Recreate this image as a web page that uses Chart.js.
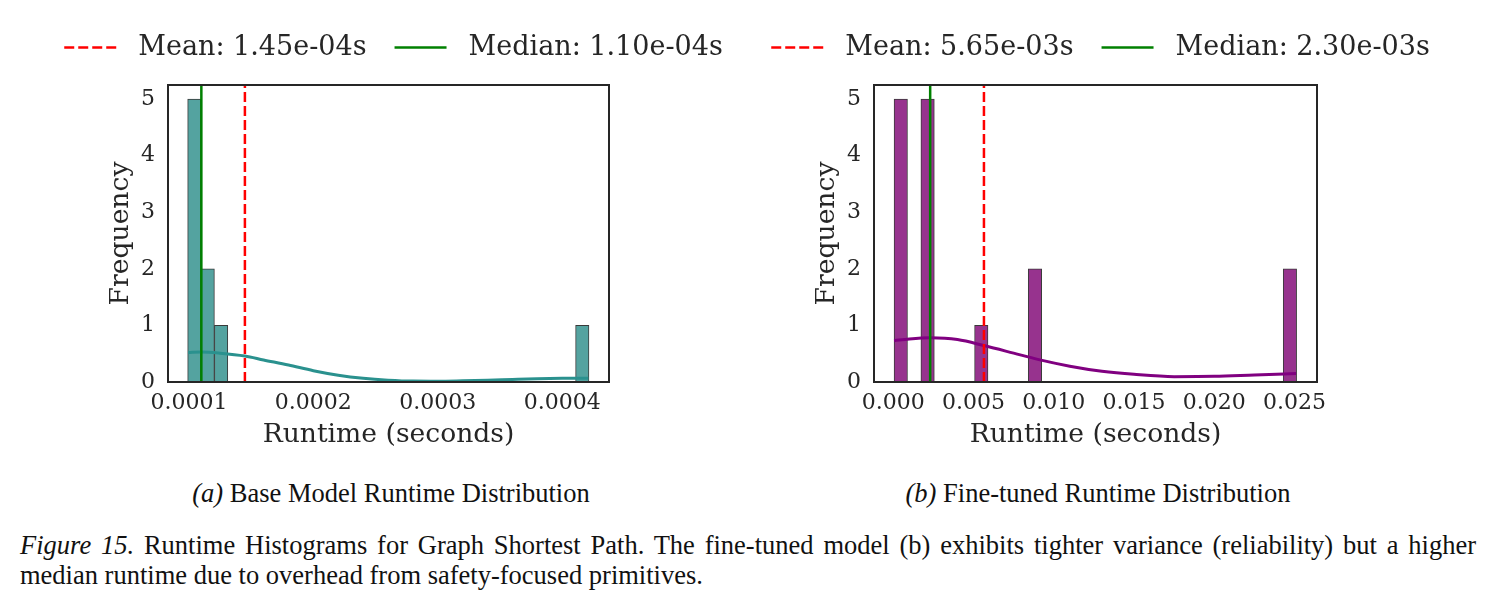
<!DOCTYPE html>
<html>
<head>
<meta charset="utf-8">
<script src="https://cdn.jsdelivr.net/npm/chart.js@4"></script>
<style>
  body { margin: 0; background: #fff; width: 1491px; height: 604px; position: relative; overflow: hidden; }
  .panel { position: absolute; top: 0; }
  .sub { position: absolute; top: 478px; font: 26.5px/30px "Liberation Serif", serif; color: #111; transform: translateX(-50%); white-space: nowrap; }
  .caption { position: absolute; left: 20px; width: 1456px; font: 26.5px/30px "Liberation Serif", serif; color: #111; white-space: nowrap; }
  .line1 { top: 530px; text-align: justify; text-align-last: justify; }
  .line2 { top: 560px; }
</style>
</head>
<body>
<div class="panel" style="left:0px"><canvas id="chartA" width="787" height="462"></canvas></div>
<div class="panel" style="left:706px"><canvas id="chartB" width="789" height="462"></canvas></div>
<div class="sub" style="left:391px"><i>(a)</i> Base Model Runtime Distribution</div>
<div class="sub" style="left:1098px"><i>(b)</i> Fine-tuned Runtime Distribution</div>
<div class="caption line1"><i>Figure 15.</i> Runtime Histograms for Graph Shortest Path. The fine-tuned model (b) exhibits tighter variance (reliability) but a higher</div>
<div class="caption line2">median runtime due to overhead from safety-focused primitives.</div>
<script>
// (a) base model: 30 bins
const binStartA = 0.0000990;
const binWidthA = 0.00001075;
const countsA = [5, 2, 1, 0, 0, 0, 0, 0, 0, 0, 0, 0, 0, 0, 0, 0, 0, 0, 0, 0, 0, 0, 0, 0, 0, 0, 0, 0, 0, 1];
const kdeXA = [0.0000994, 0.00011, 0.000125, 0.000145, 0.00016, 0.00018, 0.0002, 0.00022, 0.00024, 0.00026, 0.00028, 0.0003, 0.00032, 0.00034, 0.00036, 0.00038, 0.0004, 0.000421];
const kdeYA = [0.52, 0.53, 0.51, 0.46, 0.39, 0.30, 0.20, 0.12, 0.065, 0.032, 0.016, 0.015, 0.022, 0.032, 0.045, 0.057, 0.065, 0.068];
const meanA = 0.000145;
const medianA = 0.000110;
const legendA = ["Mean: 1.45e-04s", "Median: 1.10e-04s"];
const xTicksA = [0.0001, 0.0002, 0.0003, 0.0004];
const xRangeA = [0.0000832, 0.0004376];

// (b) fine-tuned: 30 bins
const binStartB = 0.00005;
const binWidthB = 0.000836;
const countsB = [5, 0, 5, 0, 0, 0, 1, 0, 0, 0, 2, 0, 0, 0, 0, 0, 0, 0, 0, 0, 0, 0, 0, 0, 0, 0, 0, 0, 0, 2];
const kdeXB = [0.00005, 0.001, 0.0023, 0.004, 0.0057, 0.0075, 0.009, 0.011, 0.013, 0.015, 0.0175, 0.02, 0.0225, 0.0251];
const kdeYB = [0.73, 0.76, 0.78, 0.75, 0.64, 0.51, 0.40, 0.28, 0.19, 0.135, 0.095, 0.10, 0.125, 0.15];
const meanB = 0.00565;
const medianB = 0.00230;
const legendB = ["Mean: 5.65e-03s", "Median: 2.30e-03s"];
const xTicksB = [0.000, 0.005, 0.010, 0.015, 0.020, 0.025];
const xRangeB = [-0.0012, 0.02640];

const yTicks = [0, 1, 2, 3, 4, 5];
const yMax = 5.25;

const serif = "'DejaVu Serif', serif";
const ink = "#262626";

// full box around the plot area, like the matplotlib spines
const frame = {
  id: "frame",
  afterDraw(chart) {
    const { ctx, chartArea: a } = chart;
    ctx.save();
    ctx.strokeStyle = ink;
    ctx.lineWidth = 2;
    ctx.strokeRect(a.left, a.top, a.right - a.left, a.bottom - a.top);
    ctx.restore();
  }
};

// legend entries drawn as short line samples, keeping the dash of the dataset
function lineLabels(chart) {
  return Chart.defaults.plugins.legend.labels.generateLabels(chart).map(item => {
    const ds = chart.data.datasets[item.datasetIndex];
    item.strokeStyle = ds.borderColor;
    item.lineWidth = ds.borderWidth;
    item.lineDash = ds.borderDash || [];
    return item;
  });
}

function histChart(id, p) {
  const bars = p.counts.map((c, i) => ({ x: p.binStart + (i + 0.5) * p.binWidth, y: c }));
  const kde = p.kdeX.map((x, i) => ({ x: x, y: p.kdeY[i] }));
  return new Chart(document.getElementById(id), {
    type: "bar",
    data: {
      datasets: [
        {
          type: "line", label: " " + p.legend[0], order: 1,
          data: [{ x: p.mean, y: 0 }, { x: p.mean, y: yMax }],
          borderColor: "#ff0000", borderWidth: 2.5, borderDash: [10, 4], pointRadius: 0
        },
        {
          type: "line", label: " " + p.legend[1], order: 2,
          data: [{ x: p.median, y: 0 }, { x: p.median, y: yMax }],
          borderColor: "#008000", borderWidth: 2.5, pointRadius: 0
        },
        {
          type: "line", label: "kde", order: 3, data: kde,
          borderColor: p.kdeColor, borderWidth: 3, pointRadius: 0,
          cubicInterpolationMode: "monotone"
        },
        {
          type: "bar", label: "hist", order: 4, data: bars,
          backgroundColor: p.barColor, borderColor: "#3a3a3a",
          borderWidth: ctx => (ctx.raw && ctx.raw.y > 0 ? 1 : 0),
          borderSkipped: false,
          barPercentage: 1, categoryPercentage: 1
        }
      ]
    },
    options: {
      responsive: false,
      animation: false,
      layout: { padding: { top: 6, left: 0, right: 0, bottom: 0 } },
      plugins: {
        tooltip: { enabled: false },
        legend: {
          position: "top",
          labels: {
            generateLabels: lineLabels,
            filter: item => item.datasetIndex < 2,
            usePointStyle: true, pointStyle: "line", pointStyleWidth: 52,
            padding: 28, color: ink,
            font: { family: serif, size: 27 }
          }
        }
      },
      scales: {
        x: {
          type: "linear", offset: false, min: p.xRange[0], max: p.xRange[1],
          afterBuildTicks: s => { s.ticks = p.xTicks.map(v => ({ value: v })); },
          afterFit: s => { s.height = 80; },
          grid: { display: false, drawTicks: false },
          border: { display: false },
          ticks: { padding: 8, color: ink, font: { family: serif, size: 22 }, callback: v => v.toFixed(p.digits) },
          title: { display: true, text: "Runtime (seconds)", color: ink, font: { family: serif, size: 26.6 }, padding: { top: 0, bottom: 11 } }
        },
        top: {
          type: "linear", position: "top", axis: "x",
          afterFit: s => { s.height = 14; },
          grid: { display: false, drawTicks: false }, border: { display: false },
          ticks: { display: false }
        },
        y: {
          min: 0, max: yMax,
          afterBuildTicks: s => { s.ticks = yTicks.map(v => ({ value: v })); },
          afterFit: s => { s.width = 168; },
          grid: { display: false, drawTicks: false },
          border: { display: false },
          ticks: { padding: 13, color: ink, font: { family: serif, size: 22 } },
          title: { display: true, text: "Frequency", color: ink, font: { family: serif, size: 26.6 }, padding: { top: 105, bottom: 0 } }
        },
        right: {
          type: "linear", position: "right", axis: "y",
          afterFit: s => { s.width = p.rightGap; },
          grid: { display: false, drawTicks: false }, border: { display: false },
          ticks: { display: false }
        }
      }
    },
    plugins: [frame]
  });
}

histChart("chartA", {
  binStart: binStartA, binWidth: binWidthA, counts: countsA,
  kdeX: kdeXA, kdeY: kdeYA, mean: meanA, median: medianA, legend: legendA,
  xTicks: xTicksA, xRange: xRangeA, digits: 4, rightGap: 178,
  barColor: "#54a3a0", kdeColor: "#2a918e"
});
histChart("chartB", {
  binStart: binStartB, binWidth: binWidthB, counts: countsB,
  kdeX: kdeXB, kdeY: kdeYB, mean: meanB, median: medianB, legend: legendB,
  xTicks: xTicksB, xRange: xRangeB, digits: 3, rightGap: 178,
  barColor: "#97338e", kdeColor: "#800080"
});
</script>
</body>
</html>
